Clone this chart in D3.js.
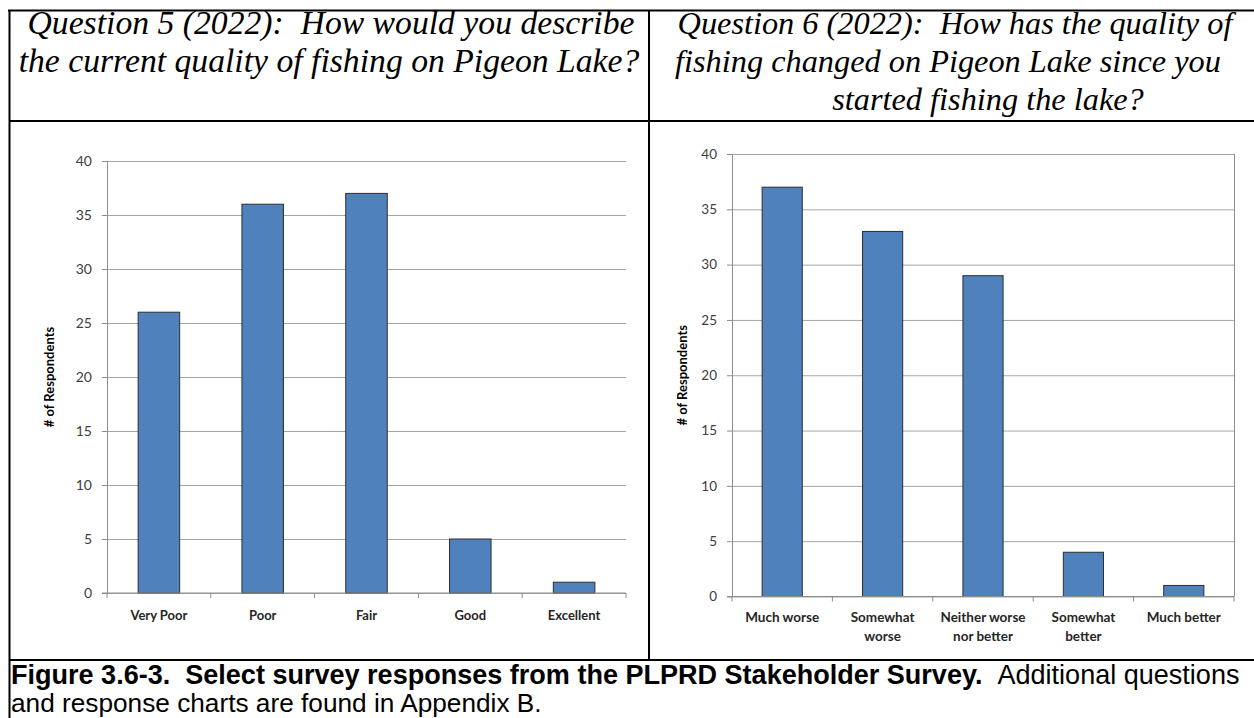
<!DOCTYPE html>
<html><head><meta charset="utf-8">
<script src="https://cdn.jsdelivr.net/npm/d3@7"></script>
<style>body{margin:0;background:#fff} svg{display:block}</style>
</head><body>
<svg id="c" width="1254" height="718"></svg>
<script>
// ---------- data ----------
const q5Title = ["Question 5 (2022):  How would you describe", "the current quality of fishing on Pigeon Lake?"];
const q6Title = ["Question 6 (2022):  How has the quality of", "fishing changed on Pigeon Lake since you", "started fishing the lake?"];
const q5Categories = ["Very Poor", "Poor", "Fair", "Good", "Excellent"];
const q5Values = [26, 36, 37, 5, 1];
const q6Categories = ["Much worse", "Somewhat worse", "Neither worse nor better", "Somewhat better", "Much better"];
const q6LabelLines = [["Much worse"], ["Somewhat", "worse"], ["Neither worse", "nor better"], ["Somewhat", "better"], ["Much better"]];
const q6Values = [37, 33, 29, 4, 1];
const yTickValues = [0, 5, 10, 15, 20, 25, 30, 35, 40];
const yAxisTitle = "# of Respondents";
const captionBold = "Figure 3.6-3.  Select survey responses from the PLPRD Stakeholder Survey.";
const captionRest = "  Additional questions";
const captionLine2 = "and response charts are found in Appendix B.";

// ---------- drawing ----------
const svg = d3.select("#c");
const W = 1254, H = 718;
const keepSpaces = s => s.replace(/  /g, " \u00a0");

// table frame
const frame = svg.append("g").attr("stroke", "#000").attr("stroke-width", 2);
frame.append("line").attr("x1", 8).attr("x2", W).attr("y1", 10.5).attr("y2", 10.5);
frame.append("line").attr("x1", 9.5).attr("x2", 9.5).attr("y1", 10).attr("y2", H);
frame.append("line").attr("x1", 649).attr("x2", 649).attr("y1", 10).attr("y2", 660);
frame.append("line").attr("x1", 9).attr("x2", W).attr("y1", 121).attr("y2", 121);
frame.append("line").attr("x1", 9).attr("x2", W).attr("y1", 660).attr("y2", 660);

const serif = "'Liberation Serif','Times New Roman',serif";
const sans = "'Liberation Sans',Arial,sans-serif";
const chartFont = "Lato,'Open Sans',sans-serif";

// headers
function header(lines, centers, baselines, fitIdx, fitWidth) {
  const base = 30;
  const g = svg.append("g").attr("font-family", serif).attr("font-style", "italic")
    .attr("fill", "#000").attr("font-size", base);
  const t = g.selectAll("text").data(lines).join("text")
    .attr("x", (d, i) => centers[i]).attr("y", (d, i) => baselines[i])
    .attr("text-anchor", "middle").text(d => keepSpaces(d));
  const w = t.nodes()[fitIdx].getComputedTextLength();
  g.attr("font-size", base * fitWidth / w);
}
header(q5Title, [331, 329], [34, 72], 1, 621);
header(q6Title, [955, 948, 988], [34, 72, 110], 0, 555);

function drawChart(cfg) {
  const g = svg.append("g");
  const x = d3.scaleBand().domain(d3.range(cfg.values.length)).range([cfg.x0, cfg.x1]);
  const y = d3.scaleLinear().domain([0, 40]).range([cfg.yb, cfg.yt]);
  const bw = x.bandwidth() * 0.4;

  // gridlines
  g.append("g").attr("transform", `translate(${cfg.x0},0)`)
    .call(d3.axisLeft(y).tickValues(yTickValues).tickSize(-(cfg.x1 - cfg.x0)).tickFormat(""))
    .call(s => s.select(".domain").remove())
    .call(s => s.selectAll("line").attr("stroke", "#a6a6a6").attr("stroke-width", 1));

  if (cfg.rightBorder) {
    g.append("line").attr("x1", cfg.x1 + 0.5).attr("x2", cfg.x1 + 0.5)
      .attr("y1", y(40)).attr("y2", y(0)).attr("stroke", "#8c8c8c");
  }

  // bars
  g.append("g").selectAll("rect").data(cfg.values).join("rect")
    .attr("x", (d, i) => x(i) + (x.bandwidth() - bw) / 2)
    .attr("y", d => y(d))
    .attr("width", bw)
    .attr("height", d => y(0) - y(d))
    .attr("fill", "#4f81bd").attr("stroke", "#2e2e2e").attr("stroke-width", 1);

  // y axis
  const ya = g.append("g").attr("transform", `translate(${cfg.x0},0)`)
    .call(d3.axisLeft(y).tickValues(yTickValues).tickSize(5).tickSizeOuter(0).tickPadding(10));
  ya.select(".domain").attr("stroke", "#8c8c8c");
  ya.selectAll(".tick line").attr("stroke", "#8c8c8c");
  ya.selectAll(".tick text").attr("font-family", chartFont).attr("font-size", cfg.tickFs).attr("fill", "#404040");

  // x axis
  const xa = g.append("g");
  xa.append("line").attr("x1", cfg.x0 - 5).attr("x2", cfg.x1).attr("y1", y(0)).attr("y2", y(0)).attr("stroke", "#8c8c8c");
  xa.selectAll("line.tk").data(d3.range(cfg.values.length + 1)).join("line").attr("class", "tk")
    .attr("x1", i => cfg.x0 + i * x.step()).attr("x2", i => cfg.x0 + i * x.step())
    .attr("y1", y(0)).attr("y2", y(0) + 5).attr("stroke", "#8c8c8c");
  const lab = xa.selectAll("text").data(cfg.labels).join("text")
    .attr("x", (d, i) => x(i) + x.bandwidth() / 2).attr("y", cfg.labelY)
    .attr("text-anchor", "middle").attr("font-family", chartFont).attr("font-weight", "bold")
    .attr("font-size", cfg.labelFs).attr("fill", "#262626");
  lab.selectAll("tspan").data(d => d).join("tspan")
    .attr("x", function () { return d3.select(this.parentNode).attr("x"); })
    .attr("dy", (d, j) => j === 0 ? 0 : cfg.labelLh).text(d => d);

  // axis title
  g.append("text").attr("transform", `translate(${cfg.titleX},${(y(0) + y(40)) / 2}) rotate(-90)`)
    .attr("text-anchor", "middle").attr("font-family", chartFont).attr("font-weight", "bold")
    .attr("font-size", cfg.titleFs).attr("fill", "#000").text(yAxisTitle);
}

drawChart({
  values: q5Values, labels: q5Categories.map(d => [d]),
  x0: 107, x1: 626, yb: 593, yt: 161,
  tickFs: 14, labelFs: 13, labelY: 620, labelLh: 19, titleFs: 13, titleX: 54
});
drawChart({
  values: q6Values, labels: q6LabelLines,
  x0: 732, x1: 1234, yb: 596.5, yt: 154,
  tickFs: 13.5, labelFs: 13.5, labelY: 622, labelLh: 19, titleFs: 13, titleX: 687, rightBorder: true
});

// caption
const capBase = 20;
const cap = svg.append("g").attr("font-family", sans).attr("fill", "#000").attr("font-size", capBase);
const c1 = cap.append("text").attr("x", 11).attr("y", 684);
c1.append("tspan").attr("font-weight", "bold").text(keepSpaces(captionBold));
c1.append("tspan").text(keepSpaces(captionRest));
const cw = c1.node().getComputedTextLength();
const capFs = capBase * 1229 / cw;
cap.attr("font-size", capFs);
cap.append("text").attr("x", 11).attr("y", 712).attr("font-size", capFs * 0.97).text(captionLine2);
</script>
</body></html>
